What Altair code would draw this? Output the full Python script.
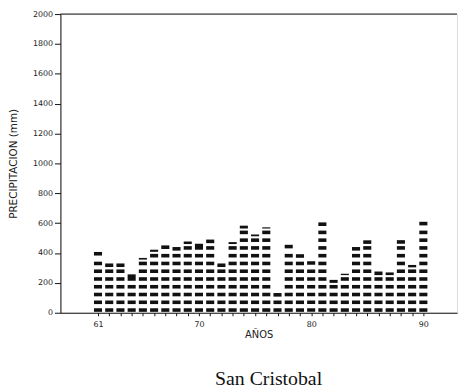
import altair as alt
import pandas as pd

# ---- data ----
years = list(range(1961, 1991))
precip = [407, 330, 330, 257, 367, 422, 451, 440, 477, 462,
          490, 330, 473, 583, 524, 572, 132, 455, 392, 345,
          605, 220, 261, 440, 485, 276, 270, 486, 320, 609]
y_ticks = list(range(0, 2001, 200))
x_label_years = [1961, 1970, 1980, 1990]
x_label_text = ["61", "70", "80", "90"]

# ---- build dashed (stacked segment) bars from the values ----
STEP, DASH, OFF, GAP = 52, 24, 6, 14
rows = []
for yr, v in zip(years, precip):
    segs = []
    k = 0
    while OFF + k * STEP + DASH <= v - GAP:
        lo = OFF + k * STEP
        segs.append([lo, lo + DASH])
        k += 1
    last_hi = segs[-1][1] if segs else 0
    if v - (last_hi + GAP) >= 6:
        segs.append([max(last_hi + GAP, v - DASH), v])
    elif segs:
        segs[-1][1] = v
    for lo, hi in segs:
        rows.append({"year": yr, "x0": yr - 0.36, "x1": yr + 0.36, "lo": lo, "hi": hi})
seg_df = pd.DataFrame(rows)

label_expr = " : ".join(
    f"datum.value == {y} ? '{t}'" for y, t in zip(x_label_years, x_label_text)
) + " : ''"

x_scale = alt.Scale(domain=[1957.65, 1993.0], nice=False, zero=False)
y_scale = alt.Scale(domain=[0, 2000], nice=False)

y_axis = alt.Axis(values=y_ticks, format="d", labelOverlap=False,
                  title="PRECIPITACION (mm)", grid=False,
                  tickSize=6, labelPadding=2, titlePadding=14,
                  domainColor="#111", tickColor="#111",
                  labelFont="DejaVu Sans", labelFontSize=8, labelColor="#222",
                  titleFont="DejaVu Sans", titleFontSize=10.5,
                  titleFontWeight="normal", titleColor="#222")

bars = alt.Chart(seg_df).mark_rect(color="#111111").encode(
    x=alt.X("x0:Q", scale=x_scale,
            axis=alt.Axis(values=years, labelExpr=label_expr, title="AÑOS",
                          grid=False, tickSize=3, labelPadding=5, titlePadding=1,
                          domainColor="#111", tickColor="#111",
                          labelFont="DejaVu Sans", labelFontSize=8, labelColor="#222",
                          titleFont="DejaVu Sans", titleFontSize=10,
                          titleFontWeight="normal", titleColor="#222")),
    x2="x1:Q",
    y=alt.Y("lo:Q", scale=y_scale, axis=y_axis),
    y2="hi:Q",
)

top_line = alt.Chart(pd.DataFrame({"top": [y_ticks[-1]]})).mark_rule(
    color="#111", strokeWidth=1
).encode(y=alt.Y("top:Q", scale=y_scale, axis=y_axis))

chart = alt.layer(bars, top_line).properties(
    width=401, height=302,
    padding={"left": 0, "top": 0, "right": 0, "bottom": 0},
    title=alt.TitleParams("San Cristobal", orient="bottom", anchor="middle",
                          font="Liberation Serif", fontSize=20, fontWeight="normal",
                          color="#111", offset=30, dx=10),
).configure_view(stroke=None).configure(background="white")

chart.save("out.html", embed_options={"renderer": "svg", "actions": False})
